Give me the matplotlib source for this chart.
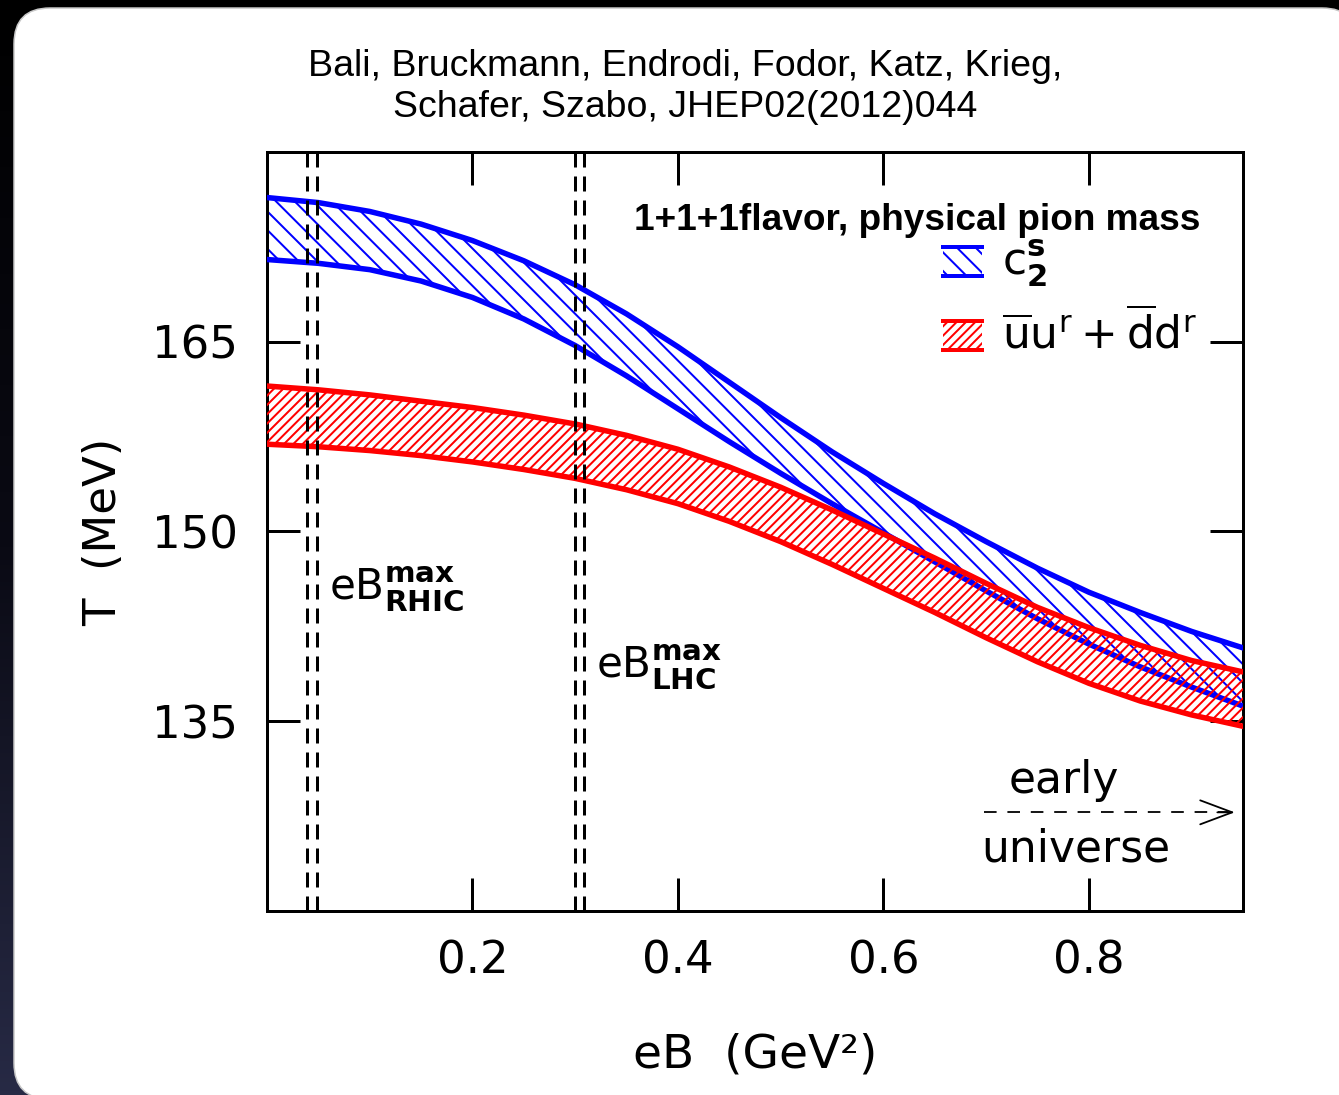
import numpy as np
import matplotlib
matplotlib.use('Agg')
import matplotlib.pyplot as plt
from matplotlib.patches import Rectangle, FancyBboxPatch
from matplotlib.lines import Line2D
from matplotlib.legend_handler import HandlerBase
from matplotlib.colors import LinearSegmentedColormap

# hatch spacing follows the dpi, so render at 56 dpi and give sizes in pixels * K
W, H, DPI = 1339, 1095, 56
K = 72 / DPI

plt.rcParams['font.family'] = 'DejaVu Sans'
plt.rcParams['mathtext.default'] = 'regular'
plt.rcParams['hatch.linewidth'] = 2.0 * K

# eB values (GeV^2) and band edges (MeV)
eB = [0.00, 0.05, 0.10, 0.15, 0.20, 0.25, 0.30, 0.35, 0.40, 0.45,
      0.50, 0.55, 0.60, 0.65, 0.70, 0.75, 0.80, 0.85, 0.90, 0.95]
cs_upper = [176.4, 176.0, 175.3, 174.3, 173.0, 171.4, 169.5, 167.2, 164.6, 161.8,
            159.0, 156.3, 153.8, 151.4, 149.2, 147.1, 145.2, 143.6, 142.1, 140.8]
cs_lower = [171.5, 171.2, 170.7, 169.8, 168.5, 166.8, 164.7, 162.3, 159.7, 157.1,
            154.6, 152.2, 149.9, 147.6, 145.3, 143.1, 141.1, 139.3, 137.7, 136.2]
cond_upper = [161.5, 161.2, 160.8, 160.3, 159.8, 159.2, 158.5, 157.6, 156.5, 155.1,
              153.5, 151.7, 149.8, 147.9, 145.9, 144.0, 142.4, 141.0, 139.8, 138.9]
cond_lower = [156.9, 156.7, 156.4, 156.0, 155.5, 154.9, 154.2, 153.3, 152.2, 150.8,
              149.2, 147.4, 145.5, 143.6, 141.6, 139.7, 138.0, 136.6, 135.5, 134.6]

# eB_max markers for RHIC and LHC (pairs of dashed lines)
rhic_lines = [0.039, 0.0485]
lhc_lines = [0.2995, 0.309]

x_ticks = [0.2, 0.4, 0.6, 0.8]
y_ticks = [135, 150, 165]

title = 'Bali, Bruckmann, Endrodi, Fodor, Katz, Krieg,\nSchafer, Szabo, JHEP02(2012)044'
legend_title = '1+1+1flavor, physical pion mass'
band_labels = [r'c$_\mathbf{2}^\mathbf{s}$', r'$\overline{u}u^r+\overline{d}d^r$']

fig = plt.figure(figsize=(W / DPI, H / DPI), dpi=DPI)
fig.patch.set_facecolor('black')

# background: dark gradient with a white rounded panel
bg = fig.add_axes([0, 0, 1, 1], zorder=-10)
bg.set_xlim(0, W)
bg.set_ylim(H, 0)
bg.axis('off')
cmap = LinearSegmentedColormap.from_list('bg', ['#000000', '#0a0a14', '#272a45'])
bg.imshow(np.linspace(0, 1, 256).reshape(-1, 1), cmap=cmap, aspect='auto',
          extent=(0, W, H, 0))
bg.add_patch(FancyBboxPatch((14, 8), 1344, 1091,
                            boxstyle='round,pad=0,rounding_size=36',
                            fc='white', ec='#c8c8c8', lw=1.5 * K))

ax = fig.add_axes([267 / W, 1 - 911 / H, (1243 - 267) / W, (911 - 152) / H])
ax.set_facecolor('none')

# bands: blue chiral susceptibility, red condensate
blue_band = ax.fill_between(eB, cs_lower, cs_upper, facecolor='none',
                            edgecolor='#0000ff', hatch='\\', linewidth=0, zorder=2)
ax.plot(eB, cs_upper, color='#0000ff', lw=5.5 * K, zorder=3)
ax.plot(eB, cs_lower, color='#0000ff', lw=5.5 * K, zorder=3)
red_band = ax.fill_between(eB, cond_lower, cond_upper, facecolor='none',
                           edgecolor='#ff0000', hatch='//', linewidth=0, zorder=4)
ax.plot(eB, cond_upper, color='#ff0000', lw=5.5 * K, zorder=5)
ax.plot(eB, cond_lower, color='#ff0000', lw=5.5 * K, zorder=5)

for xv in rhic_lines + lhc_lines:
    ax.axvline(xv, color='black', lw=3 * K, dashes=(5, 3), zorder=6)

ax.text(0.0608, 145.5, r'eB$^\mathbf{max}_\mathbf{RHIC}$', fontsize=42 * K,
        ha='left', va='center')
ax.text(0.3207, 139.3, r'eB$^\mathbf{max}_\mathbf{LHC}$', fontsize=42 * K,
        ha='left', va='center')

# early universe arrow
ax.plot([0.698, 0.935], [127.8, 127.8], color='black', lw=1.8 * K, dashes=(7, 6))
ax.annotate('', xy=(0.942, 127.8), xytext=(0.925, 127.8),
            arrowprops=dict(arrowstyle='->,head_length=1.6,head_width=0.6',
                            lw=1.8 * K, color='black', shrinkA=0, shrinkB=0,
                            mutation_scale=20 * K))
ax.text(0.776, 130.3, 'early', fontsize=44 * K, ha='center', va='center')
ax.text(0.787, 124.9, 'universe', fontsize=44 * K, ha='center', va='center')


class BandHandler(HandlerBase):
    def create_artists(self, legend, orig, xd, yd, width, height, fontsize, trans):
        col = orig.get_edgecolor()[0]
        rect = Rectangle((xd, yd), width, height, facecolor='none', edgecolor=col,
                         hatch=orig.get_hatch(), lw=0, transform=trans)
        top = Line2D([xd, xd + width], [yd + height] * 2, color=col, lw=4 * K,
                     transform=trans)
        bot = Line2D([xd, xd + width], [yd, yd], color=col, lw=4 * K,
                     transform=trans)
        return [rect, top, bot]


ax.text(0.956, 0.9104, legend_title, transform=ax.transAxes, ha='right',
        va='center', fontsize=37 * K, family='Liberation Sans', weight='bold')
ax.legend([blue_band, red_band], band_labels, loc='upper right',
          bbox_to_anchor=(0.953, 0.887), frameon=False, fontsize=44 * K,
          borderpad=0, borderaxespad=0,
          handlelength=0.9, handleheight=0.64, handletextpad=0.45,
          labelspacing=0.45, handler_map={type(blue_band): BandHandler()})

ax.set_xlim(0, 0.95)
ax.set_ylim(120, 180)
ax.set_xticks(x_ticks)
ax.set_yticks(y_ticks)
ax.tick_params(direction='in', length=33 * K, width=3 * K, top=True, right=True,
               labelsize=45 * K)
ax.tick_params(axis='y', pad=29 * K)
ax.tick_params(axis='x', pad=28 * K)
for sp in ax.spines.values():
    sp.set_linewidth(3 * K)

ax.set_xlabel('eB  (GeV²)', fontsize=47 * K)
ax.xaxis.set_label_coords(0.5, -0.16)
ax.set_ylabel('T  (MeV)', fontsize=45 * K)
ax.yaxis.set_label_coords(-0.1455, 0.5)

fig.text(685 / W, 1 - 87 / H, title, fontsize=37.5 * K, family='Liberation Sans',
         ha='center', va='center', linespacing=1.2)

fig.savefig('out.png', dpi=DPI, facecolor=fig.get_facecolor())
